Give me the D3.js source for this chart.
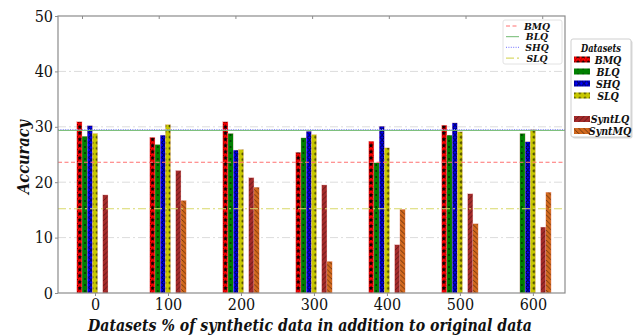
<!DOCTYPE html>
<html>
<head>
<meta charset="utf-8">
<script src="https://cdn.jsdelivr.net/npm/d3@7"></script>
<style>
	body { margin: 0; background: #fff; }
	svg { display: block; font-family: "DejaVu Serif", serif; }
	.bi { font-weight: bold; font-style: italic; }
</style>
</head>
<body>
<div id="chart"></div>
<script>
const categories = ['0', '100', '200', '300', '400', '500', '600'];

const series = ['BMQ', 'BLQ', 'SHQ', 'SLQ', 'SyntLQ', 'SyntMQ'];
const bmq    = [30.9, 28.1, 30.9, 25.4, 27.4, 30.3, 0];
const blq    = [28.3, 26.8, 28.8, 28.0, 23.5, 28.5, 28.8];
const shq    = [30.2, 28.5, 25.8, 29.2, 30.1, 30.7, 27.3];
const slq    = [28.8, 30.4, 25.9, 28.6, 26.2, 29.1, 29.5];
const syntlq = [17.7, 22.1, 20.8, 19.5, 8.7, 17.9, 11.9];
const syntmq = [0, 16.7, 19.1, 5.7, 15.1, 12.5, 18.2];

// reference levels (horizontal lines)
const baselines = ['BMQ', 'BLQ', 'SHQ', 'SLQ'];
const baselineValues = [23.6, 29.35, 29.5, 15.2];

const yTicks = [0, 10, 20, 30, 40, 50];
const topTicks = [0, 1, 2, 3, 4, 5, 6];

const SERIF = '"DejaVu Serif", serif';

const W = 638, H = 335;
const m = { left: 58, right: 565, top: 16, bottom: 293 };

const svg = d3.select('#chart').append('svg')
	.attr('width', W)
	.attr('height', H);

const defs = svg.append('defs');

// hatch patterns, roughly the way matplotlib draws them
function pat(id, fill, w, h, draw) {
	const p = defs.append('pattern')
		.attr('id', id)
		.attr('patternUnits', 'userSpaceOnUse')
		.attr('width', w)
		.attr('height', h);
	p.append('rect').attr('width', w).attr('height', h).attr('fill', fill);
	draw(p);
}

const star = d3.symbol().type(d3.symbolStar).size(10);

pat('h-bmq', '#ff0000', 5.2, 6.2, p => {
	p.append('path').attr('d', star()).attr('transform', 'translate(1.8,3)').attr('fill', '#000');
	p.append('circle').attr('cx', 4.6).attr('cy', 0.5).attr('r', 0.5).attr('fill', '#000');
});
pat('h-blq', '#008000', 5.2, 6, p => {
	p.append('circle').attr('cx', 1.8).attr('cy', 3).attr('r', 0.8).attr('fill', '#000');
});
pat('h-shq', '#0000ff', 5.2, 5, p => {
	p.append('circle').attr('cx', 2.6).attr('cy', 2.5).attr('r', 1.8)
		.attr('fill', 'none').attr('stroke', '#000').attr('stroke-width', 0.8);
});
pat('h-slq', '#c8c800', 5.2, 5.6, p => {
	p.append('circle').attr('cx', 3.6).attr('cy', 2.8).attr('r', 1)
		.attr('fill', 'none').attr('stroke', '#000').attr('stroke-width', 0.7);
});
pat('h-syntlq', '#a52a2a', 5.2, 10, p => {
	p.append('path').attr('d', 'M0,10L5.2,4.8M0,5.2L5.2,0')
		.attr('stroke', '#3a1010').attr('stroke-width', 0.6);
});
pat('h-syntmq', '#d2691e', 5.2, 10, p => {
	p.append('path').attr('d', 'M0,4.8L5.2,10M0,0L5.2,5.2')
		.attr('stroke', '#3a1a05').attr('stroke-width', 0.6);
});

const fills = ['url(#h-bmq)', 'url(#h-blq)', 'url(#h-shq)', 'url(#h-slq)', 'url(#h-syntlq)', 'url(#h-syntmq)'];
const values = [bmq, blq, shq, slq, syntlq, syntmq];
const slots = [0, 1, 2, 3, 5, 6];

const x = d3.scaleLinear().domain([-0.507, 6.44]).range([m.left, m.right]);
const xTop = d3.scaleLinear().domain([-0.313, 6.297]).range([m.left, m.right]);
const y = d3.scaleLinear().domain([0, 50]).range([m.bottom, m.top]);
const bw = 0.0712;

// squeeze DejaVu a little so it takes the room Times would
function squeeze(sel, f) {
	sel.each(function() {
		const w = this.getComputedTextLength();
		d3.select(this)
			.attr('textLength', w * f)
			.attr('lengthAdjust', 'spacingAndGlyphs');
	});
}

// grid
svg.append('g')
	.selectAll('line')
	.data(yTicks.filter(d => d > 0 && d < 50))
	.enter().append('line')
	.attr('x1', m.left).attr('x2', m.right)
	.attr('y1', d => y(d)).attr('y2', d => y(d))
	.attr('stroke', '#dcdcdc')
	.attr('stroke-width', 1)
	.attr('stroke-dasharray', '8,3,2,3');

// bars
const rows = [];
series.forEach((s, k) => {
	values[k].forEach((v, i) => {
		if (v > 0) rows.push({ s: s, k: k, i: i, v: v });
	});
});

svg.append('g')
	.selectAll('rect')
	.data(rows)
	.enter().append('rect')
	.attr('x', d => x(d.i + (slots[d.k] - 3.5) * bw))
	.attr('width', d => x(bw) - x(0))
	.attr('y', d => y(d.v))
	.attr('height', d => y(0) - y(d.v))
	.attr('fill', d => fills[d.k])
	.attr('stroke', '#f4b0b0')
	.attr('stroke-width', 0.3);

// baseline levels
const lineStyle = [
	{ color: '#ff7070', dash: '4,2.5', width: 1 },
	{ color: '#6fb96f', dash: null, width: 1 },
	{ color: '#8c8cff', dash: '1,1.4', width: 1.1 },
	{ color: '#d9d96a', dash: '8,3,2,3', width: 1.1 }
];

svg.append('g')
	.selectAll('line')
	.data(baselineValues)
	.enter().append('line')
	.attr('x1', m.left).attr('x2', m.right)
	.attr('y1', d => y(d)).attr('y2', d => y(d))
	.attr('stroke', (d, i) => lineStyle[i].color)
	.attr('stroke-width', (d, i) => lineStyle[i].width)
	.attr('stroke-dasharray', (d, i) => lineStyle[i].dash);

// frame
svg.append('rect')
	.attr('x', m.left).attr('y', m.top)
	.attr('width', m.right - m.left)
	.attr('height', m.bottom - m.top)
	.attr('fill', 'none')
	.attr('stroke', '#8c8c8c')
	.attr('stroke-width', 1.2);

// axes
const yAxis = svg.append('g')
	.attr('transform', `translate(${m.left},0)`)
	.call(d3.axisLeft(y).tickValues(yTicks).tickSize(3).tickPadding(2));

const xAxis = svg.append('g')
	.attr('transform', `translate(0,${m.bottom})`)
	.call(d3.axisBottom(x).tickValues(d3.range(categories.length))
		.tickFormat(i => categories[i]).tickSize(3).tickPadding(3));

const topAxis = svg.append('g')
	.attr('transform', `translate(0,${m.top})`)
	.call(d3.axisBottom(xTop).tickValues(topTicks).tickFormat('').tickSize(3));

for (const a of [yAxis, xAxis, topAxis]) {
	a.attr('font-family', null);
	a.select('.domain').remove();
	a.selectAll('.tick line').attr('stroke', '#8c8c8c');
	a.selectAll('text')
		.attr('fill', '#111')
		.style('font-family', SERIF)
		.style('font-size', '16px');
	squeeze(a.selectAll('text'), 0.9);
}

// axis titles
svg.append('text')
	.attr('class', 'bi')
	.attr('x', 310)
	.attr('y', 331)
	.attr('text-anchor', 'middle')
	.attr('textLength', 444)
	.attr('lengthAdjust', 'spacingAndGlyphs')
	.style('font-size', '16px')
	.attr('fill', '#111')
	.text('Datasets % of synthetic data in addition to original data');

svg.append('text')
	.attr('class', 'bi')
	.attr('transform', 'translate(29,157)rotate(-90)')
	.attr('text-anchor', 'middle')
	.attr('textLength', 74)
	.attr('lengthAdjust', 'spacingAndGlyphs')
	.style('font-size', '16px')
	.attr('fill', '#111')
	.text('Accuracy');

// legend 1: reference lines
const lg1 = svg.append('g').attr('transform', 'translate(503,20)');
lg1.append('rect')
	.attr('width', 59).attr('height', 44).attr('rx', 2)
	.attr('fill', '#fff').attr('stroke', '#e2e2e2');

const lg1rows = lg1.selectAll('g')
	.data(baselines)
	.enter().append('g')
	.attr('transform', (d, i) => `translate(0,${6 + i * 10.7})`);

lg1rows.append('line')
	.attr('x1', 3).attr('x2', 16).attr('y1', 0).attr('y2', 0)
	.attr('stroke', (d, i) => lineStyle[i].color)
	.attr('stroke-width', (d, i) => lineStyle[i].width)
	.attr('stroke-dasharray', (d, i) => lineStyle[i].dash);

lg1rows.append('text')
	.attr('class', 'bi')
	.attr('x', 34).attr('y', 3.5)
	.attr('text-anchor', 'middle')
	.style('font-size', '10px')
	.attr('fill', '#111')
	.text(d => d)
	.call(squeeze, 0.92);

// legend 2: datasets
const lg2 = svg.append('g').attr('transform', 'translate(571,39)');
lg2.append('rect')
	.attr('x', 1.5).attr('y', 1.5)
	.attr('width', 60).attr('height', 98).attr('rx', 2)
	.attr('fill', '#d8d8d8');
lg2.append('rect')
	.attr('width', 60).attr('height', 98).attr('rx', 2)
	.attr('fill', '#fff').attr('stroke', '#cfcfcf');

lg2.append('text')
	.attr('class', 'bi')
	.attr('x', 30).attr('y', 13)
	.attr('text-anchor', 'middle')
	.attr('textLength', 40)
	.attr('lengthAdjust', 'spacingAndGlyphs')
	.style('font-size', '11.5px')
	.attr('fill', '#111')
	.text('Datasets');

const legendY = [20.5, 32.5, 44.5, 56.5, 80, 92];

const lg2rows = lg2.selectAll('g.row')
	.data(series)
	.enter().append('g')
	.attr('class', 'row')
	.attr('transform', (d, i) => `translate(0,${legendY[i]})`);

lg2rows.append('rect')
	.attr('x', 3).attr('y', -3)
	.attr('width', 16).attr('height', 6)
	.attr('fill', (d, i) => fills[i]);

lg2rows.append('text')
	.attr('class', 'bi')
	.attr('x', (d, i) => i < 4 ? 37 : 39)
	.attr('y', 4)
	.attr('text-anchor', 'middle')
	.style('font-size', '11px')
	.attr('fill', '#111')
	.text(d => d)
	.call(squeeze, 0.86);
</script>
</body>
</html>
